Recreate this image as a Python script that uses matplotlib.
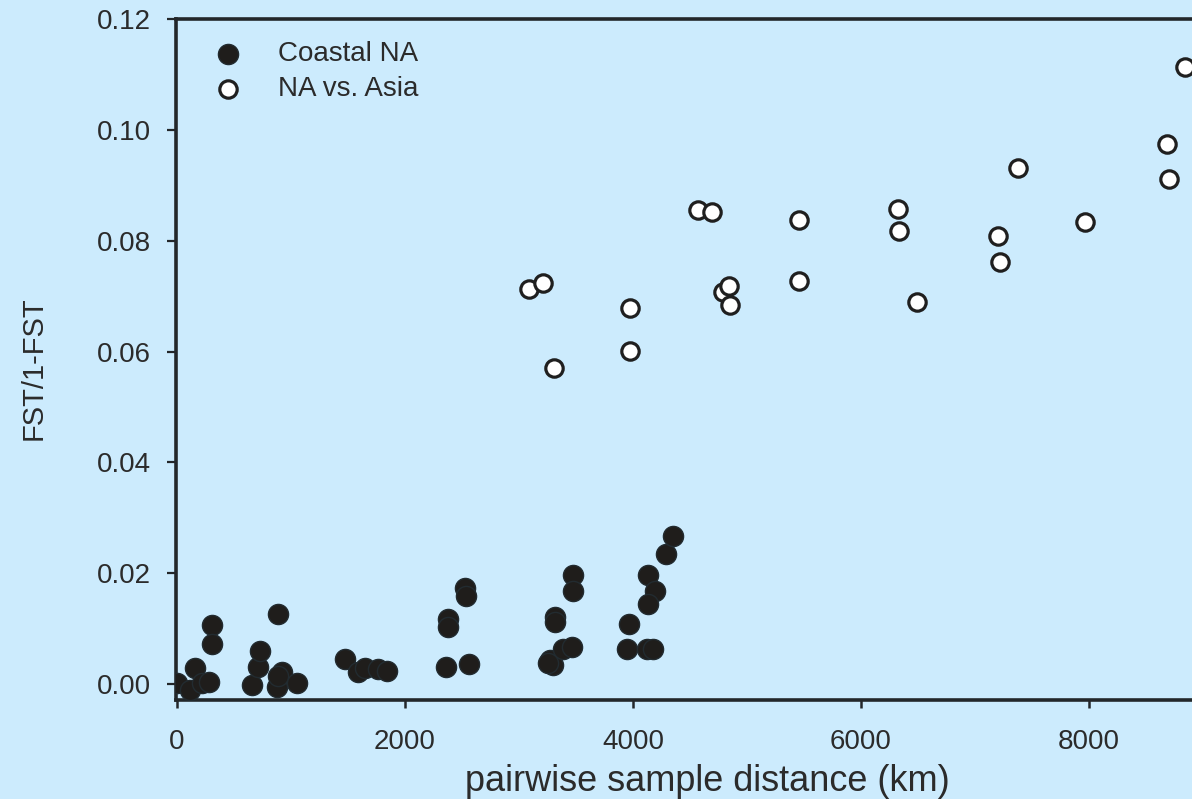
import matplotlib
matplotlib.use('Agg')
import matplotlib.pyplot as plt
import numpy as np

plt.rcParams['font.family'] = ['Liberation Sans', 'DejaVu Sans']

# coastal north america pairs (km, FST/1-FST)
coastal_x = [0, 114, 158, 217, 283, 304, 304, 655, 713, 728, 889, 875, 918, 889, 1050,
             1474, 1590, 1649, 1766, 1840, 2360, 2564, 2375, 2375, 2526, 2535,
             3272, 3298, 3254, 3389, 3462, 3316, 3316, 3476, 3476,
             3968, 3950, 4120, 4178, 4129, 4193, 4129, 4287, 4354]
coastal_y = [0.0001, -0.0011, 0.0028, 0.0001, 0.0004, 0.0106, 0.0073, -0.0001, 0.0031, 0.0060,
             0.0126, -0.0005, 0.0022, 0.0014, 0.0002,
             0.0046, 0.0022, 0.0028, 0.0027, 0.0024, 0.0031, 0.0037, 0.0117, 0.0103, 0.0173, 0.0158,
             0.0043, 0.0034, 0.0038, 0.0063, 0.0067, 0.0121, 0.0112, 0.0197, 0.0167,
             0.0108, 0.0064, 0.0064, 0.0064, 0.0197, 0.0167, 0.0144, 0.0235, 0.0267]

# north america vs asia pairs
asia_x = [3088, 3208, 3304, 3973, 3973, 4570, 4690, 5454, 5454, 4790, 4841, 4853,
          6323, 6331, 6490, 7199, 7219, 7379, 7969, 8701, 8682, 8842]
asia_y = [0.0712, 0.0723, 0.0571, 0.0678, 0.0601, 0.0855, 0.0852, 0.0837, 0.0728, 0.0708, 0.0719, 0.0684,
          0.0858, 0.0817, 0.0689, 0.0808, 0.0761, 0.0932, 0.0834, 0.0911, 0.0975, 0.1114]

x_ticks = [0, 2000, 4000, 6000, 8000]
y_ticks = [0.00, 0.02, 0.04, 0.06, 0.08, 0.10, 0.12]

bg = '#CCEBFD'
ink = '#23272a'
txt = '#2b2b2b'

W, H = 1192, 799
fig = plt.figure(figsize=(W / 100, H / 100), dpi=100, facecolor=bg)
left, right, top, bottom = 175.7, 1192, 19, 699.7
ax = fig.add_axes([left / W, 1 - bottom / H, (right - left) / W, (bottom - top) / H])
ax.set_facecolor(bg)

ax.scatter(coastal_x, coastal_y, s=14.5 ** 2, c='#1f1d1b', edgecolors='#222b30',
           linewidths=1.0, label='Coastal NA', zorder=3)
ax.scatter(asia_x, asia_y, s=12.5 ** 2, c='white', edgecolors='#1f1f1f',
           linewidths=2.3, label='NA vs. Asia', zorder=3)

ax.set_xlim(-11, 8904)
ax.set_ylim(-0.00283, 0.12)
ax.set_xticks(x_ticks)
ax.set_yticks(y_ticks)
ax.set_xticklabels([str(t) for t in x_ticks])
ax.set_yticklabels(['%.2f' % t for t in y_ticks])

for side in ['left', 'bottom', 'top']:
    ax.spines[side].set_linewidth(2.6)
    ax.spines[side].set_color(ink)
ax.spines['right'].set_visible(False)

ax.tick_params(axis='y', direction='out', length=6.5, width=1.6, color=ink,
               pad=11.5, labelsize=20, labelcolor=txt)
ax.tick_params(axis='x', direction='out', length=6, width=1.8, color=ink,
               pad=15, labelsize=20, labelcolor=txt)

ax.set_xlabel('pairwise sample distance (km)', fontsize=26, color=txt)
ax.xaxis.set_label_coords((707 - left) / (right - left), -(764 - bottom) / (bottom - top))
ax.set_ylabel('FST/1-FST', fontsize=21, color=txt)
ax.yaxis.set_label_coords((48 - left) / (right - left), (bottom - 368) / (bottom - top))

fs = 20 / 72 * 100
leg = ax.legend(loc='upper left', frameon=False, fontsize=20, scatterpoints=1,
                handlelength=1.0, handletextpad=1.3, labelspacing=0.33,
                borderpad=0, borderaxespad=0,
                bbox_to_anchor=((228 - fs / 2) / W, 1 - 41 / H),
                bbox_transform=fig.transFigure)
for t in leg.get_texts():
    t.set_color(txt)

fig.savefig('out.png', dpi=100, facecolor=bg)
